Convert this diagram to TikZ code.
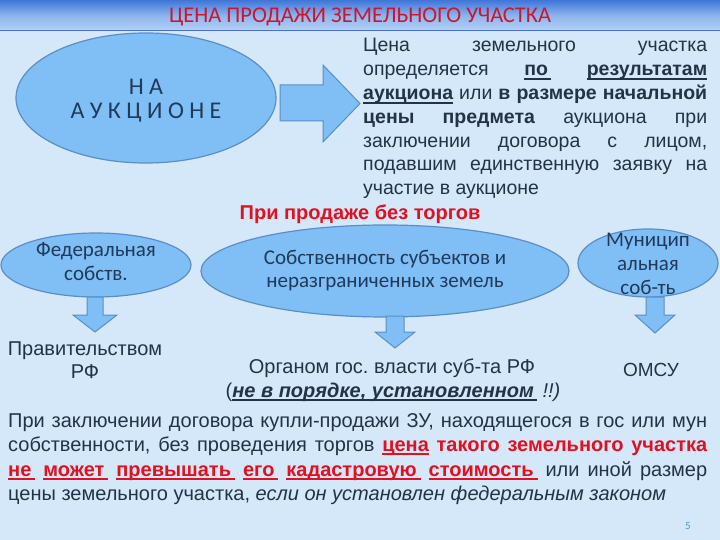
\documentclass[tikz,border=0pt]{standalone}
\usepackage{fontspec}
\setmainfont{Liberation Sans}
\newfontfamily\calfont{Carlito}
\usetikzlibrary{shapes.geometric}
\definecolor{bgc}{HTML}{D4E8FA}
\definecolor{ellf}{HTML}{80BEF6}
\definecolor{elld}{HTML}{5B8EC6}
\definecolor{txt}{HTML}{233345}
\definecolor{etxt}{HTML}{1F3A5A}
\definecolor{redc}{HTML}{E3101F}
\definecolor{titler}{HTML}{D0142C}
\definecolor{bartop}{HTML}{3F76D8}
\definecolor{barmid}{HTML}{8DB4EE}
\definecolor{barbot}{HTML}{B6D2F5}
\definecolor{pagec}{HTML}{4F94C7}
\newcommand{\myul}[1]{\setbox0\hbox{#1}\rlap{\rule[-4pt]{\wd0}{1.6pt}}\box0\relax}
\frenchspacing
\begin{document}
\begin{tikzpicture}[x=1pt,y=-1pt,
  ell/.style={ellipse, draw=elld, fill=ellf, line width=1.2pt, inner sep=0pt},
  elltext/.style={align=center, inner sep=0pt, text=etxt},
  blockarrow/.style={draw=elld, fill=ellf, line width=1pt, line join=miter},
  rline/.style={anchor=base west, inner sep=0pt, text=txt, font=\fontsize{19.5}{23}\selectfont},
  bline/.style={anchor=base west, inner sep=0pt, text=txt, font=\fontsize{20}{24}\selectfont},
  plain/.style={anchor=base, inner sep=0pt, text=txt, font=\fontsize{20}{24}\selectfont}]
\useasboundingbox (0,0) rectangle (720,540);
\fill[bgc] (0,0) rectangle (720,540);
% title bar
\shade[top color=bartop, bottom color=barbot, middle color=barmid] (0,0) rectangle (720,31);
\draw[elld!80!blue, line width=1pt] (0,31) -- (720,31);
\node[anchor=base, inner sep=0pt, text=titler, font=\calfont\fontsize{22.5}{26}\selectfont] (title) at (360,22.5) {ЦЕНА ПРОДАЖИ ЗЕМЕЛЬНОГО УЧАСТКА};
% auction ellipse
\node[ell, minimum width=260pt, minimum height=130pt] (auk) at (146,98) {};
\node[elltext, font=\calfont\fontsize{24}{24}\selectfont] (auktext) at (146,101) {Н А\\А У К Ц И О Н Е};
% right arrow
\draw[blockarrow] (280,85) -- (323,85) -- (323,65) -- (360,103.5) -- (323,142) -- (323,121) -- (280,121) -- cycle;
% right paragraph
\node[rline] (r1) at (363,52) {\makebox[344pt][s]{Цена земельного участка}};
\node[rline] (r2) at (363,75.8) {\makebox[344pt][s]{определяется \textbf{\myul{по\kern3pt} \myul{результатам}}}};
\node[rline] (r3) at (363,99.6) {\makebox[344pt][s]{\textbf{\myul{аукциона}} или \textbf{в размере начальной}}};
\node[rline] (r4) at (363,123.4) {\makebox[344pt][s]{\textbf{цены предмета} аукциона при}};
\node[rline] (r5) at (363,147.2) {\makebox[344pt][s]{заключении договора с лицом,}};
\node[rline] (r6) at (363,171) {\makebox[344pt][s]{подавшим единственную заявку на}};
\node[rline] (r7) at (363,194.8) {участие в аукционе};
% without auction
\node[anchor=base, inner sep=0pt, text=redc, font=\bfseries\fontsize{20}{24}\selectfont] (bez) at (360,220) {При продаже без торгов};
% three ellipses
\node[ell, minimum width=190pt, minimum height=64pt] (fed) at (96,265) {};
\node[elltext, font=\calfont\fontsize{21}{24}\selectfont] (fedtext) at (96,262) {Федеральная\\собств.};
\node[ell, minimum width=368pt, minimum height=92pt] (sub) at (385,271) {};
\node[elltext, font=\calfont\fontsize{21}{23}\selectfont] (subtext) at (385,271) {Собственность субъектов и\\неразграниченных земель};
\node[ell, minimum width=140pt, minimum height=68pt] (mun) at (648,263) {};
\node[elltext, font=\calfont\fontsize{21}{24}\selectfont] (muntext) at (648,264) {Муницип\\альная\\соб-ть};
% down arrows
\draw[blockarrow] (87,297) -- (103,297) -- (103,315) -- (117,315) -- (95,332) -- (73,315) -- (87,315) -- cycle;
\draw[blockarrow] (386,316) -- (404,316) -- (404,332) -- (415,332) -- (395,348) -- (375,332) -- (386,332) -- cycle;
\draw[blockarrow] (646,297) -- (664,297) -- (664,315) -- (675,315) -- (655,333) -- (635,315) -- (646,315) -- cycle;
% targets
\node[plain] (prav1) at (85,355) {Правительством};
\node[plain] (prav2) at (85,378) {РФ};
\node[plain] (org1) at (392,373) {Органом гос. власти суб-та РФ};
\node[plain] (org2) at (393,397) {(\textbf{\textit{\myul{не в порядке, установленном\kern3pt}}}\textit{ !!)}};
\node[plain, font=\fontsize{19}{23}\selectfont] (omsu) at (651,376) {ОМСУ};
% bottom paragraph
\node[bline] (b1) at (8,427) {\makebox[699pt][s]{При заключении договора купли-продажи ЗУ, находящегося в гос или мун}};
\node[bline] (b2) at (8,451) {\makebox[699pt][s]{собственности, без проведения торгов \textcolor{redc}{\bfseries\myul{цена} такого земельного участка}}};
\node[bline] (b3) at (8,476) {\makebox[699pt][s]{\textcolor{redc}{\bfseries\myul{не\kern4pt} \myul{может\kern4pt} \myul{превышать\kern4pt} \myul{его\kern4pt} \myul{кадастровую\kern4pt} \myul{стоимость\kern4pt}} или иной размер}};
\node[bline] (b4) at (8,500) {цены земельного участка, \textit{если он установлен федеральным законом}};
\node[anchor=base, inner sep=0pt, text=pagec, font=\calfont\fontsize{11}{13}\selectfont] (page) at (688,529) {5};
\end{tikzpicture}
\end{document}
